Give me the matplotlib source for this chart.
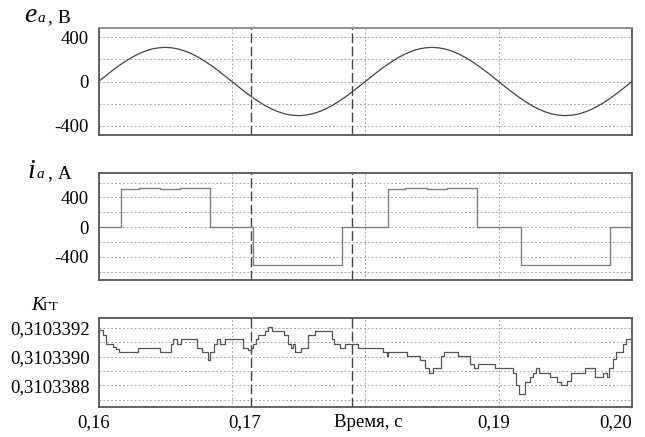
import numpy as np
import matplotlib
matplotlib.use('Agg')
import matplotlib.pyplot as plt
import matplotlib.transforms as mtransforms
from matplotlib.ticker import FuncFormatter

# e_a, V, sampled every 0.5 ms from 0.16 to 0.20 s
e_a = [0, 48, 96, 141, 182, 219, 251, 276, 295, 306, 310, 306, 295, 276, 251, 219, 182, 141, 96, 48,
       0, -48, -96, -141, -182, -219, -251, -276, -295, -306, -310, -306, -295, -276, -251, -219, -182, -141, -96, -48,
       0, 48, 96, 141, 182, 219, 251, 276, 295, 306, 310, 306, 295, 276, 251, 219, 182, 141, 96, 48,
       0, -48, -96, -141, -182, -219, -251, -276, -295, -306, -310, -306, -295, -276, -251, -219, -182, -141, -96, -48,
       0]
t_e = np.linspace(0.16, 0.20, len(e_a))

# i_a, A (step starts)
t_i = [0.16, 0.16170, 0.16300, 0.16460, 0.16610, 0.16836, 0.17160, 0.17300, 0.17450, 0.17610,
       0.17828, 0.18170, 0.18300, 0.18460, 0.18610, 0.18836, 0.19167, 0.19300, 0.19450, 0.19610,
       0.19836, 0.20]
i_a = [0, 510, 525, 510, 525, 0, -505, -515, -505, -515,
       0, 510, 525, 510, 525, 0, -505, -515, -505, -515,
       0, 0]

# K_GT (step starts)
t_k = [0.16000, 0.16006, 0.16036, 0.16054, 0.16111, 0.16129, 0.16154, 0.16298, 0.16461, 0.16543,
       0.16561, 0.16586, 0.16616, 0.16736, 0.16773, 0.16823, 0.16836, 0.16866, 0.16886, 0.16911,
       0.16948, 0.17086, 0.17123, 0.17140, 0.17146, 0.17161, 0.17178, 0.17198, 0.17248, 0.17273,
       0.17298, 0.17393, 0.17423, 0.17443, 0.17461, 0.17473, 0.17518, 0.17573, 0.17623, 0.17748,
       0.17768, 0.17810, 0.17848, 0.17943, 0.18135, 0.18160, 0.18173, 0.18310, 0.18410, 0.18448,
       0.18478, 0.18510, 0.18568, 0.18593, 0.18693, 0.18785, 0.18817, 0.18843, 0.18972, 0.19105,
       0.19130, 0.19155, 0.19197, 0.19235, 0.19260, 0.19280, 0.19305, 0.19385, 0.19435, 0.19465,
       0.19514, 0.19540, 0.19647, 0.19722, 0.19780, 0.19810, 0.19830, 0.19855, 0.19880, 0.19930,
       0.19955, 0.20000]
k_gt = [0.310339166, 0.310339189, 0.310339155, 0.310339092, 0.310339069, 0.310339055, 0.310339035, 0.310339062, 0.310339035, 0.310339092,
        0.310339125, 0.310339092, 0.310339125, 0.310339062, 0.310339035, 0.310338975, 0.310339035, 0.310339092, 0.310339125, 0.310339092,
        0.310339125, 0.310339062, 0.310339045, 0.310339035, 0.310339062, 0.310339092, 0.310339125, 0.310339150, 0.310339182, 0.310339205,
        0.310339182, 0.310339150, 0.310339092, 0.310339062, 0.310339092, 0.310339035, 0.310339062, 0.310339150, 0.310339182, 0.310339125,
        0.310339092, 0.310339062, 0.310339092, 0.310339062, 0.310339035, 0.310339005, 0.310339035, 0.310339005, 0.310338975, 0.310338919,
        0.310338890, 0.310338919, 0.310339005, 0.310339035, 0.310339005, 0.310338947, 0.310338919, 0.310338947, 0.310338919, 0.310338890,
        0.310338804, 0.310338740, 0.310338827, 0.310338860, 0.310338890, 0.310338919, 0.310338890, 0.310338860, 0.310338827, 0.310338804,
        0.310338832, 0.310338890, 0.310338919, 0.310338860, 0.310338890, 0.310338860, 0.310338919, 0.310338982, 0.310339035, 0.310339092,
        0.310339125, 0.310339125]

t_marks = [0.17147, 0.17904]
x_ticks = [0.16, 0.17, 0.18, 0.19, 0.20]
x_labels = ['0,16', '0,17', 'Время, с', '0,19', '0,20']
x_label_shift = [-5, 13, 3, -5, 0]  # px, as placed in the original

plt.rcParams['font.family'] = ['Liberation Serif', 'DejaVu Serif']
plt.rcParams['axes.unicode_minus'] = False

W, H = 645, 437
fig = plt.figure(figsize=(W / 100, H / 100), dpi=100)


def px_axes(top, bottom, left=98.5, right=632):
    return fig.add_axes([left / W, 1 - bottom / H, (right - left) / W, (bottom - top) / H])


ax1 = px_axes(28, 135)
ax2 = px_axes(173, 280)
ax3 = px_axes(318, 407)

grid_kw = dict(color='#a8a8a8', linestyle=(0, (2, 2)), linewidth=0.7)

for ax in (ax1, ax2, ax3):
    ax.set_xlim(0.16, 0.20)
    ax.set_xticks(x_ticks)
    ax.tick_params(which='both', length=0, labelsize=13.5)
    ax.tick_params(axis='y', pad=7)
    ax.grid(True, which='both', **grid_kw)
    ax.set_axisbelow(True)
    for s in ax.spines.values():
        s.set_color('#555555')
        s.set_linewidth(1.3)
    for tm in t_marks:
        ax.axvline(tm, color='#444444', linewidth=1.0, linestyle=(0, (7, 2.5)), zorder=1.5)

# panel 1
ax1.plot(t_e, e_a, color='#444444', linewidth=0.9)
ax1.set_ylim(-486, 486)
ax1.set_yticks([-400, 0, 400])
ax1.set_yticks([-200, 200], minor=True)
ax1.set_xticklabels([])
ax1.spines['top'].set_color('#888888')

# panel 2
ax2.plot(t_i, i_a, drawstyle='steps-post', color='#808080', linewidth=1.0)
ax2.set_ylim(-712, 730)
ax2.set_yticks([-400, 0, 400])
ax2.set_yticks([-600, -200, 200, 600], minor=True)
ax2.set_xticklabels([])

# panel 3
ax3.plot(t_k, k_gt, drawstyle='steps-post', color='#555555', linewidth=0.9)
ax3.set_ylim(0.31033865, 0.31033927)
ax3.set_yticks([0.3103388, 0.3103390, 0.3103392])
ax3.set_yticks([0.3103387, 0.3103389, 0.3103391], minor=True)
ax3.yaxis.set_major_formatter(FuncFormatter(lambda v, p: f'{v:.7f}'.replace('.', ',')))
ax3.tick_params(axis='y', pad=6)
ax3.tick_params(axis='x', pad=5)
ax3.set_xticklabels(x_labels)
for lab, dx in zip(ax3.get_xticklabels(), x_label_shift):
    lab.set_transform(lab.get_transform() + mtransforms.ScaledTranslation(dx / 100, 0, fig.dpi_scale_trans))
ax3.get_xticklabels()[-1].set_ha('right')


def ftext(x, y, s, **kw):
    fig.text(x / W, 1 - y / H, s, va='baseline', ha='left', **kw)


ftext(24, 22, 'e', fontsize=20, style='italic')
ftext(38, 22, 'a', fontsize=11, style='italic')
ftext(48, 22, ', В', fontsize=14)
ftext(27, 178, 'i', fontsize=20, style='italic')
ftext(37, 178, 'a', fontsize=11, style='italic')
ftext(48, 178, ', А', fontsize=14)
ftext(31, 310, 'K', fontsize=14, style='italic')
ftext(43, 310, 'ГТ', fontsize=9.5)

fig.savefig('out.png', dpi=100)
